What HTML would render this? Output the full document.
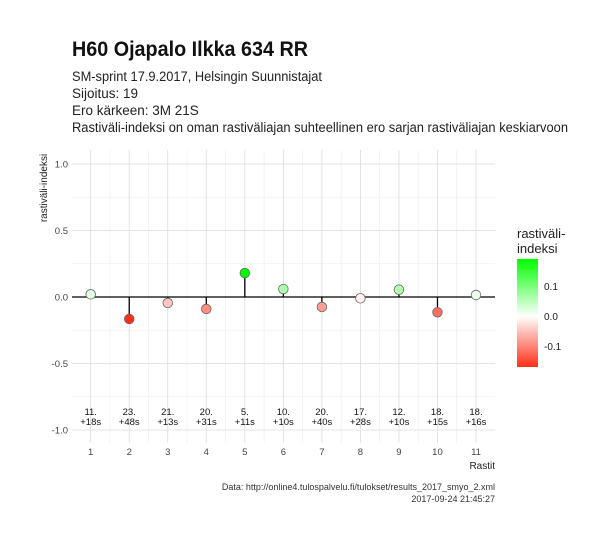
<!DOCTYPE html>
<html><head><meta charset="utf-8"><style>
body{margin:0;background:#fff;font-family:"Liberation Sans",sans-serif;}
svg text{font-family:"Liberation Sans",sans-serif;}
</style></head><body>
<svg width="607" height="540" viewBox="0 0 607 540">
<rect width="607" height="540" fill="#fff"/>
<text x="72" y="56" font-size="21" font-weight="bold" fill="#111" textLength="236" lengthAdjust="spacingAndGlyphs">H60 Ojapalo Ilkka 634 RR</text>
<g font-size="13.5" fill="#222">
<text x="72" y="81" textLength="250" lengthAdjust="spacingAndGlyphs">SM-sprint 17.9.2017, Helsingin Suunnistajat</text>
<text x="72" y="98">Sijoitus: 19</text>
<text x="72" y="115">Ero kärkeen: 3M 21S</text>
<text x="72" y="132" textLength="496" lengthAdjust="spacingAndGlyphs">Rastiväli-indeksi on oman rastiväliajan suhteellinen ero sarjan rastiväliajan keskiarvoon</text>
</g>
<g id="grid"></g>
<g id="marks"></g>
<text transform="translate(47,188) rotate(-90)" font-size="10" fill="#222" text-anchor="middle">rastiväli-indeksi</text>
<text x="495" y="469" font-size="10" fill="#222" text-anchor="end">Rastit</text>
<g>
<text x="517" y="238" font-size="13" fill="#222">rastiväli-</text>
<text x="517" y="253" font-size="13" fill="#222">indeksi</text>
<defs><linearGradient id="lg" x1="0" y1="0" x2="0" y2="1">
<stop offset="0" stop-color="#00ff00"/><stop offset="0.53" stop-color="#ffffff"/><stop offset="1" stop-color="#ff3018"/></linearGradient></defs>
<rect x="517" y="259" width="21" height="108" fill="url(#lg)"/>
<text x="544" y="290" font-size="10" fill="#222">0.1</text>
<text x="544" y="320" font-size="10" fill="#222">0.0</text>
<text x="544" y="350" font-size="10" fill="#222">-0.1</text>
</g>
<g font-size="9" fill="#333" text-anchor="end">
<text x="495" y="490">Data: http://online4.tulospalvelu.fi/tulokset/results_2017_smyo_2.xml</text>
<text x="495" y="502">2017-09-24 21:45:27</text>
</g>
</svg>
<script>
const controls=[1,2,3,4,5,6,7,8,9,10,11];
const values=[0.02,-0.165,-0.045,-0.09,0.18,0.06,-0.075,-0.01,0.055,-0.115,0.015];
const ranks=["11.","23.","21.","20.","5.","10.","20.","17.","12.","18.","18."];
const behind=["+18s","+48s","+13s","+31s","+11s","+10s","+40s","+28s","+10s","+15s","+16s"];
const yTicks=[-1,-0.5,0,0.5,1];
const yTickLabels=["-1.0","-0.5","0.0","0.5","1.0"];
const NS="http://www.w3.org/2000/svg";
const px0=72,px1=495,py0=150,py1=443;
const x=v=>90.7+(v-1)*38.53;
const y=v=>297-v*133;
function mk(t,a,p){const e=document.createElementNS(NS,t);for(const k in a)e.setAttribute(k,a[k]);p.appendChild(e);return e;}
const g=document.getElementById('grid'),m=document.getElementById('marks');
for(let i=0;i<yTicks.length-1;i++){const mm=(yTicks[i]+yTicks[i+1])/2;const l=mk('line',{x1:px0,x2:px1,y1:y(mm),y2:y(mm),stroke:'#ececec','stroke-width':0.6},g);}
controls.forEach((c,i)=>{if(i<controls.length-1){const mx=x(c+0.5);const l=mk('line',{x1:mx,x2:mx,y1:py0,y2:py1,stroke:'#ececec','stroke-width':0.6},g);}});
yTicks.forEach((t,i)=>{const l=mk('line',{x1:px0,x2:px1,y1:y(t),y2:y(t),stroke:'#dcdcdc','stroke-width':0.8},g);
const tx=mk('text',{x:68,y:y(t)+3.5,'font-size':9.5,fill:'#444','text-anchor':'end'},g);tx.textContent=yTickLabels[i];});
controls.forEach((c,i)=>{const l=mk('line',{x1:x(c),x2:x(c),y1:py0,y2:py1,stroke:'#dcdcdc','stroke-width':0.8},g);
const tx=mk('text',{x:x(c),y:455,'font-size':9.5,fill:'#444','text-anchor':'middle'},g);tx.textContent=c;});
const z=mk('line',{x1:px0,x2:px1,y1:y(0),y2:y(0),stroke:'#000','stroke-width':1.3},m);
const vmax=Math.max(...values),vmin=Math.min(...values);
function col(v){let r,gg,b;if(v>=0){const t=v/vmax;r=255*(1-t);gg=255;b=255*(1-t);}else{const t=v/vmin;r=255;gg=255-(255-48)*t;b=255-(255-24)*t;}return `rgb(${r|0},${gg|0},${b|0})`;}
values.forEach((v,i)=>{const cx=x(controls[i]);
const s=mk('line',{x1:cx,x2:cx,y1:y(0),y2:y(v),stroke:'#000','stroke-width':1.3},m);
const p=mk('circle',{cx:cx,cy:y(v),r:4.8,fill:col(v),stroke:'#666','stroke-width':0.8},m);
const t1=mk('text',{x:cx,y:415,'font-size':9.5,fill:'#111','text-anchor':'middle'},m);t1.textContent=ranks[i];
const t2=mk('text',{x:cx,y:425,'font-size':9.5,fill:'#111','text-anchor':'middle'},m);t2.textContent=behind[i];});
</script>
</body></html>
